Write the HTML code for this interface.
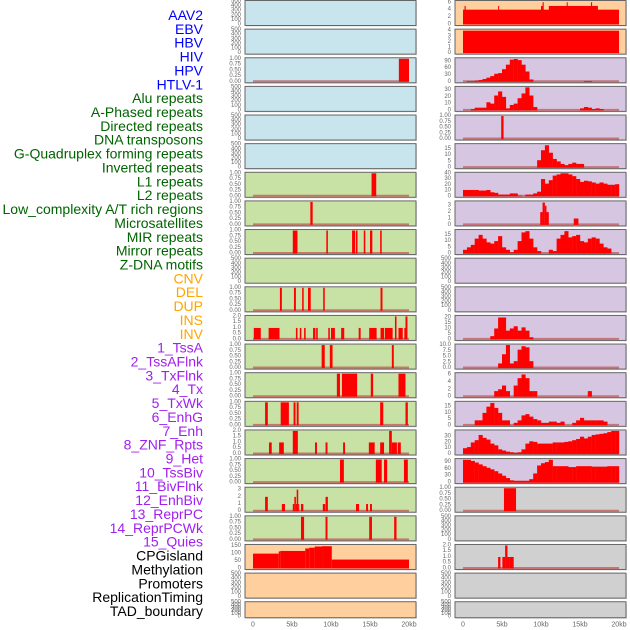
<!DOCTYPE html>
<html><head><meta charset="utf-8"><style>
html,body{margin:0;padding:0;background:#fff;overflow:hidden;}
svg{display:block;font-family:"Liberation Sans",sans-serif;}
</style></head><body>
<svg id="chart" width="630" height="630" viewBox="0 0 630 630" xmlns="http://www.w3.org/2000/svg">
<g id="labels"></g>
<g id="panels"></g>
<g id="xaxis"></g>
</svg>
<script>
// ---- labels ----
const trackLabels = ["AAV2","EBV","HBV","HIV","HPV","HTLV-1","Alu repeats","A-Phased repeats","Directed repeats","DNA transposons","G-Quadruplex forming repeats","Inverted repeats","L1 repeats","L2 repeats","Low_complexity A/T rich regions","Microsatellites","MIR repeats","Mirror repeats","Z-DNA motifs","CNV","DEL","DUP","INS","INV","1_TssA","2_TssAFlnk","3_TxFlnk","4_Tx","5_TxWk","6_EnhG","7_Enh","8_ZNF_Rpts","9_Het","10_TssBiv","11_BivFlnk","12_EnhBiv","13_ReprPC","14_ReprPCWk","15_Quies","CPGisland","Methylation","Promoters","ReplicationTiming","TAD_boundary"];
const labelGroups = [6,13,5,15,5];
const groupColors = ["#0000ff","#006400","#ffa500","#a020f0","#000000"];
const xTicks = [0,5,10,15,20];
const xTickLabels = ["0","5kb","10kb","15kb","20kb"];

// ---- tick sets ----
const tEmpty=[0,100,200,300,400,500], t1=[0,0.25,0.5,0.75,1], t2=[0,0.5,1,1.5,2];

// ---- column 1 series: [startKb, endKb, value] ----
const c1HIV=[[18.7,20,1]];
const c1L1=[[15.2,15.8,1]];
const c1Low=[[7.35,7.65,1]];
const c1MIR=[[5.1,5.7,1],[9.4,9.6,1],[12.7,13.1,1],[13.2,13.4,1],[14.2,14.4,1],[15.0,15.3,1],[16.3,16.5,1]];
const c1DEL=[[3.45,3.7,1],[5.25,5.5,1],[6.3,6.5,1],[7.05,7.4,1],[9.0,9.2,1],[16.35,16.6,1]];
const c1INS=[[0.1,1.0,1],[2.0,3.4,1],[5.5,5.7,1],[6.0,6.2,1],[6.55,6.75,1],[7.7,8.0,1],[8.1,8.3,1],[9.65,9.85,1],[10.0,10.5,1],[11.3,11.7,1],[13.55,13.8,1],[14.9,15.85,1],[16.35,16.8,1],[16.9,17.9,1],[18.2,18.4,2],[18.65,19.2,1],[19.4,19.55,1],[19.55,19.8,2]];
const c1TssA=[[8.8,9.2,1],[9.85,10.2,1],[17.8,18.05,1]];
const c1Tx=[[10.75,11.15,1],[11.4,13.35,1],[15.1,15.4,1],[18.65,19.55,1]];
const c1EnhG=[[1.55,1.9,1],[3.55,4.6,1],[5.2,5.45,1],[5.6,5.85,1],[16.3,16.7,1],[19.55,19.85,1]];
const c1ZNF=[[2.05,2.4,1],[3.35,3.95,1],[5.1,5.75,2],[7.95,8.2,1],[9.3,9.55,1],[11.55,11.8,1],[14.85,15.6,1],[16.3,16.8,1],[17.45,17.8,2],[17.8,18.45,1],[18.55,18.95,1]];
const c1TssBiv=[[11.15,11.65,1],[15.75,16.5,1],[16.8,17.2,1],[19.35,19.85,1]];
const c1EnhBiv=[[1.55,1.9,2],[3.7,4.1,1],[5.1,5.3,1],[5.3,5.5,2],[5.5,5.6,1],[5.6,5.8,3],[5.8,5.9,1],[6.15,6.45,1],[8.95,9.25,1],[9.3,9.6,2],[13.2,13.6,1],[14.5,14.75,1],[15.0,15.25,1]];
const c1ReprPCWk=[[6.15,6.55,1],[9.3,9.55,1],[14.9,15.25,1],[18.1,18.4,1]];
const c1CPG=[[0,3.3,100],[3.3,3.5,115],[3.5,6.7,118],[6.7,7.2,135],[7.2,7.9,140],[7.9,8.85,148],[8.85,10.1,150],[10.1,20,60]];

// ---- column 2 series ----
const c2AAV2=[[0,20,4],[11,17.3,5],[0.2,0.35,5],[4.5,4.6,5],[10.0,10.2,5],[10.2,10.35,6],[13.1,13.3,5],[13.3,13.4,6],[16.4,16.55,6]];
const c2EBV=[[0,20,4]];
const c2Directed=[[4.9,5.2,1]];
const c2Low=[[9.9,10.2,2],[10.2,10.5,3.5],[10.5,10.7,3],[10.7,11.0,2],[14.2,14.8,1]];
const c2EnhBiv=[[5.25,6.8,1]];
const c2CPG=[[4.5,4.8,1],[5.05,5.4,1],[5.4,5.7,2],[5.7,5.95,1],[5.95,6.5,1]];
// 0.5kb bins (40 per track)
const c2HIV=[0,3,3,5,8,12,18,25,35,38,55,75,97,100,95,75,45,10,0,0,0,0,0,0,0,0,0,0,0,0,0,3,3,0,0,0,0,0,0,0];
const c2Alu=[0,0,2,4,4,4,12,10,22,28,20,3,8,10,18,25,34,22,5,0,0,0,0,0,0,0,0,0,0,0,3,5,4,2,3,2,0,0,0,0];
const c2GQ=[0,0,0,0,0,0,0,0,0,0,0,0,0,0,0,0,0,0,0,6,14,18,12,7,5,3,2,3,4,3,3,0,0,0,0,0,0,0,0,0];
const c2L1=[11,11,11,11,10,10,11,7,6,3,3,3,5,5,1,0,3,3,5,8,30,22,28,36,38,40,40,38,35,30,25,27,26,24,22,24,22,20,20,21];
const c2MIR=[3,5,7,12,15,12,9,8,10,14,5,3,1,3,10,17,18,12,5,2,0,0,3,2,12,15,18,13,14,15,10,9,12,13,12,8,5,4,0,0];
const c2INS=[0,0,0,0,0,0,0,3,10,20,20,8,10,12,8,11,8,2,0,0,0,0,0,0,0,0,0,0,0,0,0,0,0,0,0,0,0,0,0,0];
const c2TssA=[0,0,0,0,0,0,0,0,0,2,6,10,2,3,8,9.5,9,3,0,0,0,0,0,0,0,0,0,0,0,0,0,0,0,0,0,0,0,0,0,0];
const c2Tx=[0,0,0,0,0,0,0,0,1.5,2,3,1.5,0,3,5,6,5,1.5,1.5,0,0,0,0,0,0,0,0,0,0,0,0,0,1.5,0,0,0,0,0,0,0];
const c2EnhG=[0,0,0,4,4,10,15,18,14,10,4,4,0,2,4,8,9,7,5,4,2,2,3,3,2,3,0,0,2,4,6,4,4,4,4,4,3,0,0,0];
const c2ZNF=[10,12,20,24,33,28,25,18,15,8,6,4,3,2,3,8,18,22,21,18,18,18,18,20,20,20,21,22,24,26,30,27,30,33,34,35,36,38,40,40];
const c2TssBiv=[100,100,95,88,80,72,65,58,50,40,30,20,10,8,8,8,8,15,40,75,85,90,100,72,72,72,72,68,68,72,72,72,72,70,70,70,70,72,72,72];

const col1=[
 {bg:"#c8e4ec",d:null,ym:500,t:tEmpty},{bg:"#c8e4ec",d:null,ym:500,t:tEmpty},
 {bg:"#c8e4ec",d:c1HIV,ym:1,t:t1,f:2},{bg:"#c8e4ec",d:null,ym:500,t:tEmpty},
 {bg:"#c8e4ec",d:null,ym:500,t:tEmpty},{bg:"#c8e4ec",d:null,ym:500,t:tEmpty},
 {bg:"#c8e2a6",d:c1L1,ym:1,t:t1,f:2},{bg:"#c8e2a6",d:c1Low,ym:1,t:t1,f:2},
 {bg:"#c8e2a6",d:c1MIR,ym:1,t:t1,f:2},{bg:"#c8e2a6",d:null,ym:500,t:tEmpty},
 {bg:"#c8e2a6",d:c1DEL,ym:1,t:t1,f:2},{bg:"#c8e2a6",d:c1INS,ym:2,t:t2,f:1},
 {bg:"#c8e2a6",d:c1TssA,ym:1,t:t1,f:2},{bg:"#c8e2a6",d:c1Tx,ym:1,t:t1,f:2},
 {bg:"#c8e2a6",d:c1EnhG,ym:1,t:t1,f:2},{bg:"#c8e2a6",d:c1ZNF,ym:2,t:t2,f:1},
 {bg:"#c8e2a6",d:c1TssBiv,ym:1,t:t1,f:2},{bg:"#c8e2a6",d:c1EnhBiv,ym:3.2,t:[0,1,2,3]},
 {bg:"#c8e2a6",d:c1ReprPCWk,ym:1,t:t1,f:2},{bg:"#ffcf9e",d:c1CPG,ym:155,t:[0,50,100,150],nb:1},
 {bg:"#ffcf9e",d:null,ym:500,t:tEmpty},{bg:"#ffcf9e",d:null,ym:500,t:tEmpty}];
const col2=[
 {bg:"#ffcf9e",d:c2AAV2,ym:6.2,t:[0,2,4,6],nb:1},{bg:"#ffcf9e",d:c2EBV,ym:4.1,t:[0,1,2,3,4],nb:1},
 {bg:"#d6c6e2",b:c2HIV,ym:101,t:[0,30,60,90]},{bg:"#d6c6e2",b:c2Alu,ym:34,t:[0,10,20,30]},
 {bg:"#d6c6e2",d:c2Directed,ym:1,t:t1,f:2},{bg:"#d6c6e2",b:c2GQ,ym:18.5,t:[0,5,10,15]},
 {bg:"#d6c6e2",b:c2L1,ym:40,t:[0,10,20,30,40]},{bg:"#d6c6e2",d:c2Low,ym:3.6,t:[0,1,2,3]},
 {bg:"#d6c6e2",b:c2MIR,ym:18.5,t:[0,5,10,15]},{bg:"#d6c6e2",d:null,ym:500,t:tEmpty},
 {bg:"#d6c6e2",d:null,ym:500,t:tEmpty},{bg:"#d6c6e2",b:c2INS,ym:21,t:[0,5,10,15,20]},
 {bg:"#d6c6e2",b:c2TssA,ym:10,t:[0,2.5,5,7.5,10],f:1},{bg:"#d6c6e2",b:c2Tx,ym:6.2,t:[0,2,4,6]},
 {bg:"#d6c6e2",b:c2EnhG,ym:18.5,t:[0,5,10,15]},{bg:"#d6c6e2",b:c2ZNF,ym:40,t:[0,10,20,30]},
 {bg:"#d6c6e2",b:c2TssBiv,ym:101,t:[0,30,60,90]},{bg:"#d0d0d0",d:c2EnhBiv,ym:1,t:t1,f:2},
 {bg:"#d0d0d0",d:null,ym:500,t:tEmpty},{bg:"#d0d0d0",d:c2CPG,ym:2,t:t2,f:1},
 {bg:"#d0d0d0",d:null,ym:500,t:tEmpty},{bg:"#d0d0d0",d:null,ym:500,t:tEmpty}];

const NS="http://www.w3.org/2000/svg";
function mk(tag,attrs,parent){const e=document.createElementNS(NS,tag);for(const k in attrs)e.setAttribute(k,attrs[k]);parent.appendChild(e);return e;}
const X0=[253,463],KB=7.8,BOX=[245,455],BW=171;
function xs(c,kb){return X0[c]+kb*KB;}
function rowTop(i){return 0.5+i*28.63;}
function rowH(i){return i===21?16:25;}

const lg=document.getElementById('labels');
let li=0;
labelGroups.forEach((n,g)=>{for(let k=0;k<n;k++){const y=15+li*13.86;
 const t=mk('text',{x:203,y:y,'text-anchor':'end','dominant-baseline':'central','font-size':'14',fill:groupColors[g]},lg);
 
 
 t.textContent=trackLabels[li];li++;}});

const pg=document.getElementById('panels');
[col1,col2].forEach((col,c)=>{col.forEach((p,i)=>{
 const top=rowTop(i),h=rowH(i),zero=top+h-1,span=h-2;
 const ys=v=>zero-v/p.ym*span;
 const g=mk('g',{},pg);
 
 
 mk('rect',{x:BOX[c]+1,y:top+1,width:BW,height:h,fill:'#bbb',opacity:0.5},g);
 mk('rect',{x:BOX[c],y:top,width:BW,height:h,fill:p.bg,stroke:'#666','stroke-width':1},g);
 const hasData=p.d||p.b;
 if(hasData&&!p.nb){const bl=mk('line',{x1:xs(c,0),x2:xs(c,20),y1:zero-0.5,y2:zero-0.5,stroke:'#c0504d','stroke-width':2,opacity:0.7},g);
  
  }
 if(p.d){p.d.forEach(b=>{const r=mk('rect',{x:xs(c,b[0]),y:ys(b[2]),width:Math.max(1,(b[1]-b[0])*KB),height:zero-ys(b[2]),fill:'#ff0000'},g);
  
  });}
 if(p.b){p.b.forEach((v,k)=>{if(v<=0)return;const r=mk('rect',{x:xs(c,k*0.5),y:ys(v),width:0.5*KB+0.2,height:zero-ys(v),fill:'#ff0000'},g);
  
  });}
 p.t.forEach(tv=>{const tt=mk('text',{x:BOX[c]-4,y:ys(tv),'text-anchor':'end','dominant-baseline':'central','font-size':'6',fill:'#666'},g);
  
  
  tt.textContent=p.f?tv.toFixed(p.f):String(tv);});
});});

const xg=document.getElementById('xaxis');
[0,1].forEach(c=>{xTicks.forEach((v,k)=>{const t=mk('text',{x:xs(c,v),y:625,'text-anchor':'middle','dominant-baseline':'central','font-size':'7',fill:'#666'},xg);
 
 
 t.textContent=xTickLabels[k];});});
</script>
</body></html>
